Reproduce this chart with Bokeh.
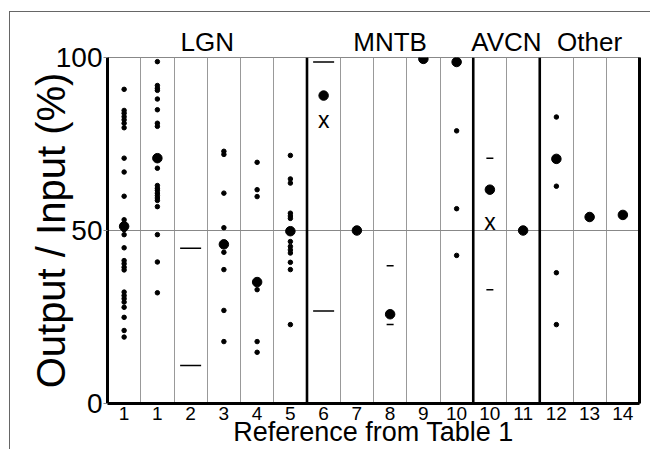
from bokeh.plotting import figure
from bokeh.models import FixedTicker, Span, Range1d, LinearAxis
from bokeh.core.properties import value
from bokeh.embed import file_html
from bokeh.resources import INLINE

# ---- data ----
ref_labels = ["1", "1", "2", "3", "4", "5", "6", "7", "8", "9", "10", "10", "11", "12", "13", "14"]
group_names = ["LGN", "MNTB", "AVCN", "Other"]
group_sizes = [6, 5, 2, 3]

# individual values (small dots), one list per column
col01_cells = [90.8, 84.7, 83.9, 82.9, 82.0, 81.0, 79.7, 70.9, 66.9, 59.9, 53.1, 50.2, 48.8,
               45.0, 41.3, 40.4, 39.4, 38.6, 32.2, 31.2, 30.3, 29.3, 27.8, 24.9, 21.1, 19.2]
col02_cells = [98.8, 91.9, 91.1, 90.5, 88.0, 84.9, 81.0, 80.1, 68.0, 63.0, 62.2, 61.6, 60.8,
               60.1, 59.4, 58.7, 56.9, 48.8, 40.9, 32.0]
col04_cells = [72.9, 72.0, 60.8, 50.8, 43.7, 38.7, 26.9, 17.9]
col05_cells = [69.7, 61.8, 59.8, 32.9, 17.9, 14.8]
col06_cells = [71.7, 64.9, 63.7, 55.0, 54.2, 53.5, 46.8, 45.4, 44.4, 43.5, 40.8, 38.7, 22.8]
col11_cells = [78.8, 56.3, 42.8]
col14_cells = [82.8, 62.8, 37.8, 22.8]

# means (large dots)
mean_cols = [1, 2, 4, 5, 6, 7, 8, 9, 10, 11, 12, 13, 14, 15, 16]
mean_vals = [51.2, 70.9, 46.0, 35.1, 49.8, 89.0, 50.0, 25.8, 99.6, 98.7, 61.8, 50.0, 70.7, 53.9, 54.5]

# ranges given only as limits (long bars and short ticks)
range_long_cols = [3, 3, 7, 7]
range_long_vals = [44.9, 11.0, 98.7, 26.7]
range_short_cols = [9, 9, 12, 12]
range_short_vals = [39.8, 22.8, 70.9, 32.9]

# "x" marks
xmark_cols = [7, 12]
xmark_vals = [81.8, 52.4]

# ---- build ----
cell_lists = {1: col01_cells, 2: col02_cells, 4: col04_cells, 5: col05_cells,
              6: col06_cells, 11: col11_cells, 14: col14_cells}
cell_x, cell_y = [], []
for c, vals in cell_lists.items():
    cell_x += [c] * len(vals)
    cell_y += vals

FONT = "Liberation Sans"
ncol = len(ref_labels)

p = figure(width=641, height=438, output_backend="svg", toolbar_location=None,
           x_range=Range1d(0.5, ncol + 0.5), y_range=Range1d(0, 100),
           min_border_left=97, min_border_right=12, min_border_top=45, min_border_bottom=47)
p.styles = {"margin-left": "9px", "margin-top": "11px",
            "border-left": "1px solid #666", "border-top": "1px solid #666"}
p.outline_line_color = "#888888"
p.outline_line_width = 1
p.background_fill_color = "white"
p.border_fill_color = "white"

# grids
p.ygrid.ticker = FixedTicker(ticks=[50])
p.ygrid.grid_line_color = "#888888"
p.ygrid.grid_line_width = 1
edges = []
acc = 0
for s in group_sizes[:-1]:
    acc += s
    edges.append(acc + 0.5)
thin = [i + 0.5 for i in range(1, ncol) if (i + 0.5) not in edges]
p.xgrid.ticker = FixedTicker(ticks=thin)
p.xgrid.grid_line_color = "#999999"
p.xgrid.grid_line_width = 1

for e in edges:
    p.add_layout(Span(location=e, dimension="height", line_color="black", line_width=2.6))

# axes
p.xaxis.ticker = FixedTicker(ticks=list(range(1, ncol + 1)))
p.xaxis.major_label_overrides = {i + 1: lab for i, lab in enumerate(ref_labels)}
p.xaxis.major_tick_out = 0
p.xaxis.major_tick_in = 0
p.xaxis.minor_tick_line_color = None
p.xaxis.major_label_standoff = 3
p.xaxis.major_label_text_font = FONT
p.xaxis.major_label_text_font_size = "19px"
p.xaxis.axis_label = "Reference from Table 1"
p.xaxis.axis_label_text_font = FONT
p.xaxis.axis_label_text_font_size = "27px"
p.xaxis.axis_label_text_font_style = "normal"
p.xaxis.axis_label_standoff = -6

p.yaxis.ticker = FixedTicker(ticks=[0, 50, 100])
p.yaxis.major_tick_out = 4
p.yaxis.major_tick_in = 0
p.yaxis.major_tick_line_color = "#888888"
p.yaxis.minor_tick_line_color = None
p.yaxis.major_label_standoff = 1
p.yaxis.major_label_text_font = FONT
p.yaxis.major_label_text_font_size = "28px"
p.yaxis.axis_label = "Output / Input (%)"
p.yaxis.axis_label_text_font = FONT
p.yaxis.axis_label_text_font_size = "40px"
p.yaxis.axis_label_text_font_style = "normal"
p.yaxis.axis_label_standoff = -20

for ax in (p.xaxis, p.yaxis):
    ax.axis_line_width = 3
    ax.axis_line_color = "black"
    ax.major_label_text_color = "black"
    ax.axis_label_text_color = "black"

# right frame edge as a bare axis
right_ax = LinearAxis(ticker=FixedTicker(ticks=[]), axis_line_width=3, axis_line_color="black",
                      major_tick_out=0, major_tick_in=0, minor_tick_out=0, minor_tick_in=0,
                      major_label_text_font_size="0px", major_label_standoff=0)
p.add_layout(right_ax, "right")

# group labels as a top axis
centers = []
start = 0
for s in group_sizes:
    centers.append(start + (s + 1) / 2)
    start += s
top_ax = LinearAxis(ticker=FixedTicker(ticks=centers),
                    major_label_overrides={c: n for c, n in zip(centers, group_names)},
                    axis_line_color=None, major_tick_out=0, major_tick_in=0,
                    minor_tick_out=0, minor_tick_in=0, major_label_standoff=1,
                    major_label_text_font=FONT, major_label_text_font_size="26px",
                    major_label_text_color="black")
p.add_layout(top_ax, "above")

# glyphs
p.scatter(cell_x, cell_y, size=4.5, color="black")
p.scatter(mean_cols, mean_vals, size=9.5, color="black")
p.scatter(range_long_cols, range_long_vals, marker="dash", size=21, line_color="black", line_width=1.5)
p.scatter(range_short_cols, range_short_vals, marker="dash", size=7, line_color="black", line_width=1.5)
p.text(xmark_cols, xmark_vals, text=["x"] * len(xmark_cols), text_font=value(FONT),
       text_font_size="23px", text_align="center", text_baseline="middle", text_color="black")

open("out.html", "w").write(file_html(p, INLINE))
